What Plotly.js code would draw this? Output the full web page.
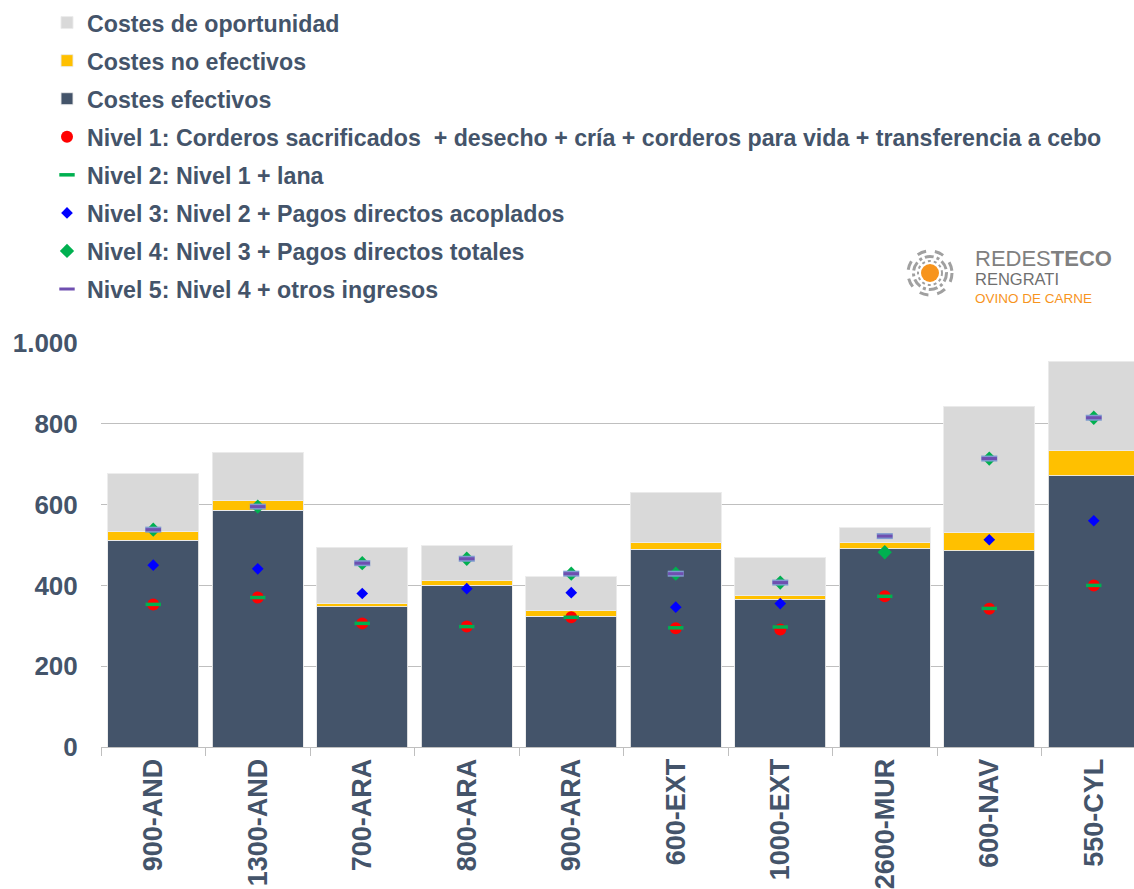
<!DOCTYPE html>
<html><head><meta charset="utf-8">
<script src="https://cdn.plot.ly/plotly-3.0.1.min.js"></script>
<style>html,body{margin:0;padding:0;background:#fff}#chart{width:1134px;height:889px}</style>
</head><body><div id="chart"></div>
<script>
const categories = ['900-AND','1300-AND','700-ARA','800-ARA','900-ARA','600-EXT','1000-EXT','2600-MUR','600-NAV','550-CYL'];
const costesEfectivos   = [512,586,347,401,324,490,366,491,486,671];
const costesNoEfectivos = [22,23,9,12,13,17,9,14,46,62];
const costesOportunidad = [142,120,139,85,85,124,94,38,311,222];
const nivel1 = [353,370,306,298,321,294,291,373,342,400];
const nivel2 = [353,370,306,298,321,295,297,373,343,400];
const nivel3 = [450,441,380,392,382,346,355,482,513,560];
const nivel4 = [538,595,455,466,429,429,407,482,714,815];
const nivel5 = [538,595,455,466,429,429,407,522,714,815];
const yTicks = [0,200,400,600,800,1000];

const FONT = 'Liberation Sans, Arial, sans-serif';
const TXT = '#44546A';

// plot area in pixels
const W = 1134, H = 889, L = 101, R = 0, T = 343, B = 142;
const pw = W - L - R, ph = H - T - B;
const px2x = p => (p - L) / pw;
const py2y = p => (H - B - p) / ph;

const barLine = {color: 'rgba(235,235,235,0.9)', width: 1};
const traces = [
  {type:'bar', name:'Costes efectivos', x:categories, y:costesEfectivos,
   marker:{color:'#44546A', line:barLine}, legendgroup:'g3', legendrank:3},
  {type:'bar', name:'Costes no efectivos', x:categories, y:costesNoEfectivos,
   marker:{color:'#FFC000', line:barLine}, legendgroup:'g2', legendrank:2},
  {type:'bar', name:'Costes de oportunidad', x:categories, y:costesOportunidad,
   marker:{color:'#D9D9D9', line:barLine}, legendgroup:'g1', legendrank:1},
  {type:'scatter', mode:'markers', name:'Nivel 1: Corderos sacrificados  + desecho + cría + corderos para vida + transferencia a cebo',
   x:categories, y:nivel1, marker:{symbol:'circle', size:12, color:'#FF0000'}, legendgroup:'g4', legendrank:4},
  {type:'scatter', mode:'markers', name:'Nivel 2: Nivel 1 + lana',
   x:categories, y:nivel2, marker:{symbol:'line-ew', size:11, line:{color:'#00B050', width:3.5}}, legendgroup:'g5', legendrank:5},
  {type:'scatter', mode:'markers', name:'Nivel 3: Nivel 2 + Pagos directos acoplados',
   x:categories, y:nivel3, marker:{symbol:'diamond', size:9, color:'#0000FF'}, legendgroup:'g6', legendrank:6},
  {type:'scatter', mode:'markers', name:'Nivel 4: Nivel 3 + Pagos directos totales',
   x:categories, y:nivel4, marker:{symbol:'diamond', size:11, color:'#00B050'}, legendgroup:'g7', legendrank:7},
  {type:'scatter', mode:'markers', name:'Nivel 5 halo', showlegend:false,
   x:categories, y:nivel5, marker:{symbol:'line-ew', size:11.5, line:{color:'#7F9BD0', width:6}}, legendgroup:'g8', legendrank:8, hoverinfo:'skip'},
  {type:'scatter', mode:'markers', name:'Nivel 5: Nivel 4 + otros ingresos',
   x:categories, y:nivel5, marker:{symbol:'line-ew', size:11, line:{color:'#6F4FB0', width:3}}, legendgroup:'g8', legendrank:8}
];

const cx = px2x(930), cy = py2y(273);
const ring = (r, dash, w) => ({type:'circle', xref:'paper', yref:'paper', xsizemode:'pixel', ysizemode:'pixel',
  xanchor:cx, yanchor:cy, x0:-r, x1:r, y0:-r, y1:r, line:{color:'#A0A0A0', width:w, dash:dash}});
const shapes = [
  ring(22, 'dash', 3),
  ring(16.5, 'dashdot', 3),
  ring(12, 'dot', 2),
  {type:'circle', xref:'paper', yref:'paper', xsizemode:'pixel', ysizemode:'pixel',
   xanchor:cx, yanchor:cy, x0:-9, x1:9, y0:-9, y1:9, fillcolor:'#F7941D', line:{width:0}}
];

const annotations = [
  {xref:'paper', yref:'paper', x:px2x(973), y:py2y(276), xanchor:'left', yanchor:'middle', showarrow:false, align:'left',
   text:'<span style="font-size:22px;color:#808080">REDES<b>TECO</b></span><br>' +
        '<span style="font-size:16.5px;color:#6F6F6F">RENGRATI</span><br>' +
        '<span style="font-size:13.5px;color:#F7941D">OVINO DE CARNE</span>',
   font:{family:FONT, size:14.3, color:'#808080'}}
];

const layout = {
  width:W, height:H,
  margin:{l:L, r:R, t:T, b:B, autoexpand:false},
  paper_bgcolor:'#fff', plot_bgcolor:'#fff',
  barmode:'stack', bargap:0.13,
  separators:',.',
  showlegend:true,
  legend:{xref:'container', yref:'container', x:47/W, y:1-1/H, xanchor:'left', yanchor:'top',
    traceorder:'grouped', tracegroupgap:4.9, bgcolor:'rgba(0,0,0,0)',
    font:{family:FONT, size:23.2, color:TXT, weight:'bold'}},
  xaxis:{type:'category', range:[-0.5, 9.385], tickson:'boundaries', ticks:'outside', ticklen:8,
    tickcolor:'#BFBFBF', showline:true, linecolor:'#BFBFBF', linewidth:1, showgrid:false,
    tickangle:-90, automargin:false, fixedrange:true,
    tickfont:{family:FONT, size:27, color:TXT, weight:'bold'}},
  yaxis:{range:[0,1000], tickvals:yTicks, tickformat:',d', showgrid:true, gridcolor:'#BFBFBF', gridwidth:1,
    zeroline:false, showline:false, ticks:'outside', ticklen:17, tickcolor:'rgba(0,0,0,0)',
    automargin:false, fixedrange:true,
    tickfont:{family:FONT, size:26, color:TXT, weight:'bold'}},
  shapes:shapes,
  annotations:annotations
};

Plotly.newPlot('chart', traces, layout, {displayModeBar:false, staticPlot:true});
</script>
</body></html>
